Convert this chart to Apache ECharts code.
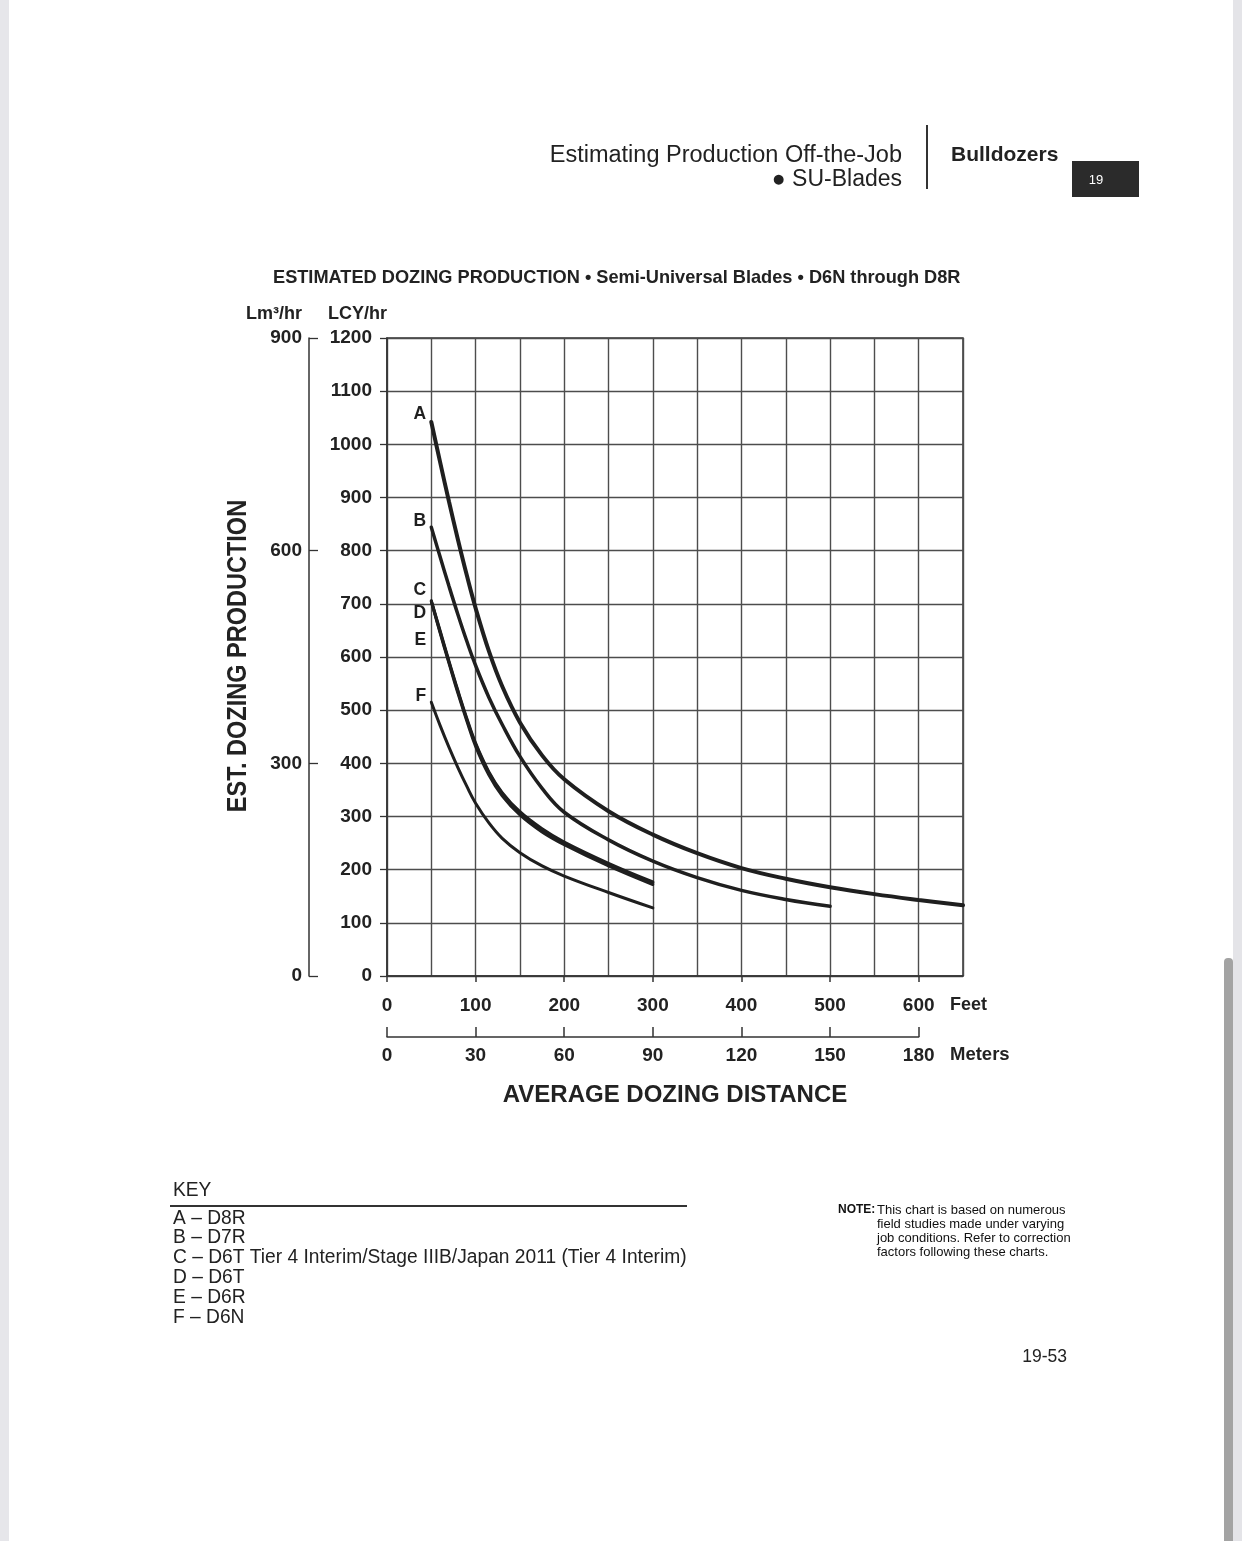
<!DOCTYPE html>
<html>
<head>
<meta charset="utf-8">
<script src="https://cdn.jsdelivr.net/npm/echarts@6/dist/echarts.min.js"></script>
<style>
html,body{margin:0;padding:0;background:#fff;}
#chart{width:1242px;height:1541px;}
</style>
</head>
<body>
<div id="chart"></div>
<script>
// ---- data (distance in feet, production in LCY/hr) ----
const distA = [50,60,70,80,90,100,115,130,150,175,200,250,300,350,400,450,500,550,600,650];
const prodA = [1042,966,892,821,754,692,611,545,477,415,370,310,266,231,203,183,167,154,143,133];
const distB = [50,60,70,80,90,100,115,130,150,175,200,250,300,350,400,450,500];
const prodB = [844,788,733,680,630,584,524,473,413,353,308,256,216,185,161,144,131];
const distCDEF = [50,60,70,80,90,100,115,130,150,175,200,250,300];
const prodC = [706,649,592,537,485,438,384,345,309,277,252,212,177];
const prodD = [705,647,590,535,483,436,382,343,307,275,250,210,175];
const prodE = [704,645,588,532,480,432,378,339,303,271,247,207,172];
const prodF = [515,471,430,392,357,325,288,259,232,207,188,157,128];

const curveLetters = ['A','B','C','D','E','F'];
const keyModels = ['D8R','D7R','D6T Tier 4 Interim/Stage IIIB/Japan 2011 (Tier 4 Interim)','D6T','D6R','D6N'];
const feetTicks = [0,100,200,300,400,500,600];
const meterTicks = [0,30,60,90,120,150,180];
const noteLines = ['This chart is based on numerous','field studies made under varying','job conditions. Refer to correction','factors following these charts.'];

// ---- styling ----
const INK = '#1f1f1f';
const GRIDC = '#4d4d4d';
const F_REG = '"Liberation Sans", Arial, sans-serif';

const curveDefs = [
  {d: distA, v: prodA, w: 4.0, off: [0,-8]},
  {d: distB, v: prodB, w: 3.5, off: [0,-6]},
  {d: distCDEF, v: prodC, w: 3.0, off: [0,-10]},
  {d: distCDEF, v: prodD, w: 3.0, off: [0,12]},
  {d: distCDEF, v: prodE, w: 3.0, off: [0,38]},
  {d: distCDEF, v: prodF, w: 3.0, off: [0,-6]}
];

const series = curveDefs.map((c, i) => ({
  type: 'line',
  name: curveLetters[i],
  xAxisIndex: 0, yAxisIndex: 0,
  smooth: 0.4,
  symbol: 'circle', symbolSize: 0.1, showSymbol: true,
  lineStyle: {color: INK, width: c.w, cap: 'round'},
  itemStyle: {color: INK},
  z: 5,
  label: {show: false},
  data: c.d.map((x, k) => k === 0 ? {
      value: [x, c.v[k]],
      label: {show: true, formatter: curveLetters[i], position: 'left', distance: 5,
              offset: c.off, color: INK, fontFamily: F_REG, fontWeight: 'bold', fontSize: 17.5}
    } : [x, c.v[k]])
}));

const graphic = [];
// page edges and scrollbar
graphic.push({type:'rect', shape:{x:0,y:0,width:9,height:1541}, style:{fill:'#e6e6ea'}, z:0});
graphic.push({type:'rect', shape:{x:1233,y:0,width:9,height:1541}, style:{fill:'#e4e4e8'}, z:0});
graphic.push({type:'rect', shape:{x:1224,y:958,width:9,height:583,r:[4,4,0,0]}, style:{fill:'#a3a3a3'}, z:1});
// header
graphic.push({type:'text', style:{text:'Estimating Production Off-the-Job', x:902, y:156, align:'right', verticalAlign:'middle', font:'23.5px '+F_REG, fill:'#222'}});
graphic.push({type:'text', style:{text:'● SU-Blades', x:902, y:180, align:'right', verticalAlign:'middle', font:'23px '+F_REG, fill:'#222'}});
graphic.push({type:'line', shape:{x1:927,y1:125,x2:927,y2:189}, style:{stroke:'#333', lineWidth:2}});
graphic.push({type:'text', style:{text:'Bulldozers', x:951, y:155, align:'left', verticalAlign:'middle', font:'bold 21px '+F_REG, fill:'#222'}});
graphic.push({type:'rect', shape:{x:1072,y:161,width:67,height:36}, style:{fill:'#2b2b2b'}});
graphic.push({type:'text', style:{text:'19', x:1096, y:180, align:'center', verticalAlign:'middle', font:'13px '+F_REG, fill:'#fff'}});
// y axis title (condensed look)
graphic.push({type:'text', x:238, y:656, rotation: Math.PI/2, scaleX: 0.84,
  style:{text:'EST. DOZING PRODUCTION', x:0, y:0, align:'center', verticalAlign:'middle', font:'bold 28px '+F_REG, fill:'#222'}});
// unit labels
graphic.push({type:'text', style:{text:'Feet', x:950, y:1005, align:'left', verticalAlign:'middle', font:'bold 18px '+F_REG, fill:'#222'}});
graphic.push({type:'text', style:{text:'Meters', x:950, y:1055, align:'left', verticalAlign:'middle', font:'bold 18.5px '+F_REG, fill:'#222'}});
// key
graphic.push({type:'text', x:173, y:1190, scaleX:0.96, style:{text:'KEY', x:0, y:0, align:'left', verticalAlign:'middle', font:'20px '+F_REG, fill:'#222'}});
graphic.push({type:'line', shape:{x1:170,y1:1206,x2:687,y2:1206}, style:{stroke:'#333', lineWidth:2}});
curveLetters.forEach((L, i) => {
  graphic.push({type:'text', x:173, y:1218 + i*19.8, scaleX:0.96,
    style:{text: L + ' \u2013 ' + keyModels[i], x:0, y:0, align:'left', verticalAlign:'middle', font:'20px '+F_REG, fill:'#222'}});
});
// note
graphic.push({type:'text', style:{text:'NOTE:', x:838, y:1210, align:'left', verticalAlign:'middle', font:'bold 12px '+F_REG, fill:'#111'}});
noteLines.forEach((t, i) => {
  graphic.push({type:'text', style:{text:t, x:877, y:1210 + i*14, align:'left', verticalAlign:'middle', font:'13px '+F_REG, fill:'#111'}});
});
// page number
graphic.push({type:'text', style:{text:'19-53', x:1067, y:1357, align:'right', verticalAlign:'middle', font:'17.5px '+F_REG, fill:'#222'}});

const boldLbl = {fontFamily: F_REG, fontWeight: 'bold', fontSize: 19, color: '#222'};
const axisLine = {show: true, lineStyle: {color: '#333', width: 1.5}};
const hiddenAxis = {axisLine: {show: false}, axisTick: {show: false}, axisLabel: {show: false}, splitLine: {show: false}};

const option = {
  animation: false,
  backgroundColor: '#fff',
  title: {
    text: 'ESTIMATED DOZING PRODUCTION \u2022 Semi-Universal Blades \u2022 D6N through D8R',
    left: 273, top: 269, padding: 0,
    textStyle: {fontFamily: F_REG, fontWeight: 'bold', fontSize: 18.2, color: '#222'}
  },
  grid: [
    {left: 387, top: 338, width: 576, height: 638, show: true, borderColor: '#333', borderWidth: 1.5, backgroundColor: 'transparent'},
    {left: 387, top: 1036, width: 531.7, height: 1},
    {left: 387, top: 338, width: 531.7, height: 638}
  ],
  xAxis: [
    {gridIndex: 0, type: 'value', min: 0, max: 650, interval: 50,
     axisLine: axisLine, axisTick: {show: false},
     axisLabel: Object.assign({margin: 20, formatter: v => feetTicks.indexOf(v) >= 0 ? String(v) : ''}, boldLbl),
     splitLine: {show: true, lineStyle: {color: GRIDC, width: 1.4}},
     name: 'AVERAGE DOZING DISTANCE', nameLocation: 'middle', nameGap: 107,
     nameTextStyle: {fontFamily: F_REG, fontWeight: 'bold', fontSize: 24, color: '#222'}},
    {gridIndex: 1, type: 'value', min: 0, max: 180, interval: 30,
     axisLine: axisLine, axisTick: {show: true, inside: true, length: 10, lineStyle: {color: '#333', width: 1.5}},
     axisLabel: Object.assign({margin: 9, formatter: v => meterTicks.indexOf(v) >= 0 ? String(v) : ''}, boldLbl),
     splitLine: {show: false}},
    {gridIndex: 2, type: 'value', min: 0, max: 600, interval: 100,
     axisLine: {show: false}, axisTick: {show: true, length: 6, lineStyle: {color: '#333', width: 1.5}},
     axisLabel: {show: false}, splitLine: {show: false}}
  ],
  yAxis: [
    {gridIndex: 0, type: 'value', min: 0, max: 1200, interval: 100, position: 'left',
     axisLine: axisLine, axisTick: {show: true, length: 7, lineStyle: {color: '#333', width: 1.3}},
     axisLabel: Object.assign({margin: 15, formatter: v => String(v)}, boldLbl),
     splitLine: {show: true, lineStyle: {color: GRIDC, width: 1.4}},
     name: 'LCY/hr', nameLocation: 'end', nameGap: 15,
     nameTextStyle: {align: 'right', fontFamily: F_REG, fontWeight: 'bold', fontSize: 18, color: '#222'}},
    {gridIndex: 0, type: 'value', min: 0, max: 900, interval: 300, position: 'left', offset: 78,
     axisLine: axisLine, axisTick: {show: true, inside: true, length: 9, lineStyle: {color: '#333', width: 1.3}},
     axisLabel: Object.assign({margin: 7, formatter: v => String(v)}, boldLbl),
     splitLine: {show: false},
     name: 'Lm³/hr', nameLocation: 'end', nameGap: 15,
     nameTextStyle: {align: 'right', padding: [0, 7, 0, 0], fontFamily: F_REG, fontWeight: 'bold', fontSize: 18, color: '#222'}},
    Object.assign({gridIndex: 1, type: 'value', min: 0, max: 1}, hiddenAxis),
    Object.assign({gridIndex: 2, type: 'value', min: 0, max: 1}, hiddenAxis)
  ],
  graphic: graphic,
  series: series
};

const chart = echarts.init(document.getElementById('chart'), null, {renderer: 'canvas'});
chart.setOption(option);
</script>
</body>
</html>
